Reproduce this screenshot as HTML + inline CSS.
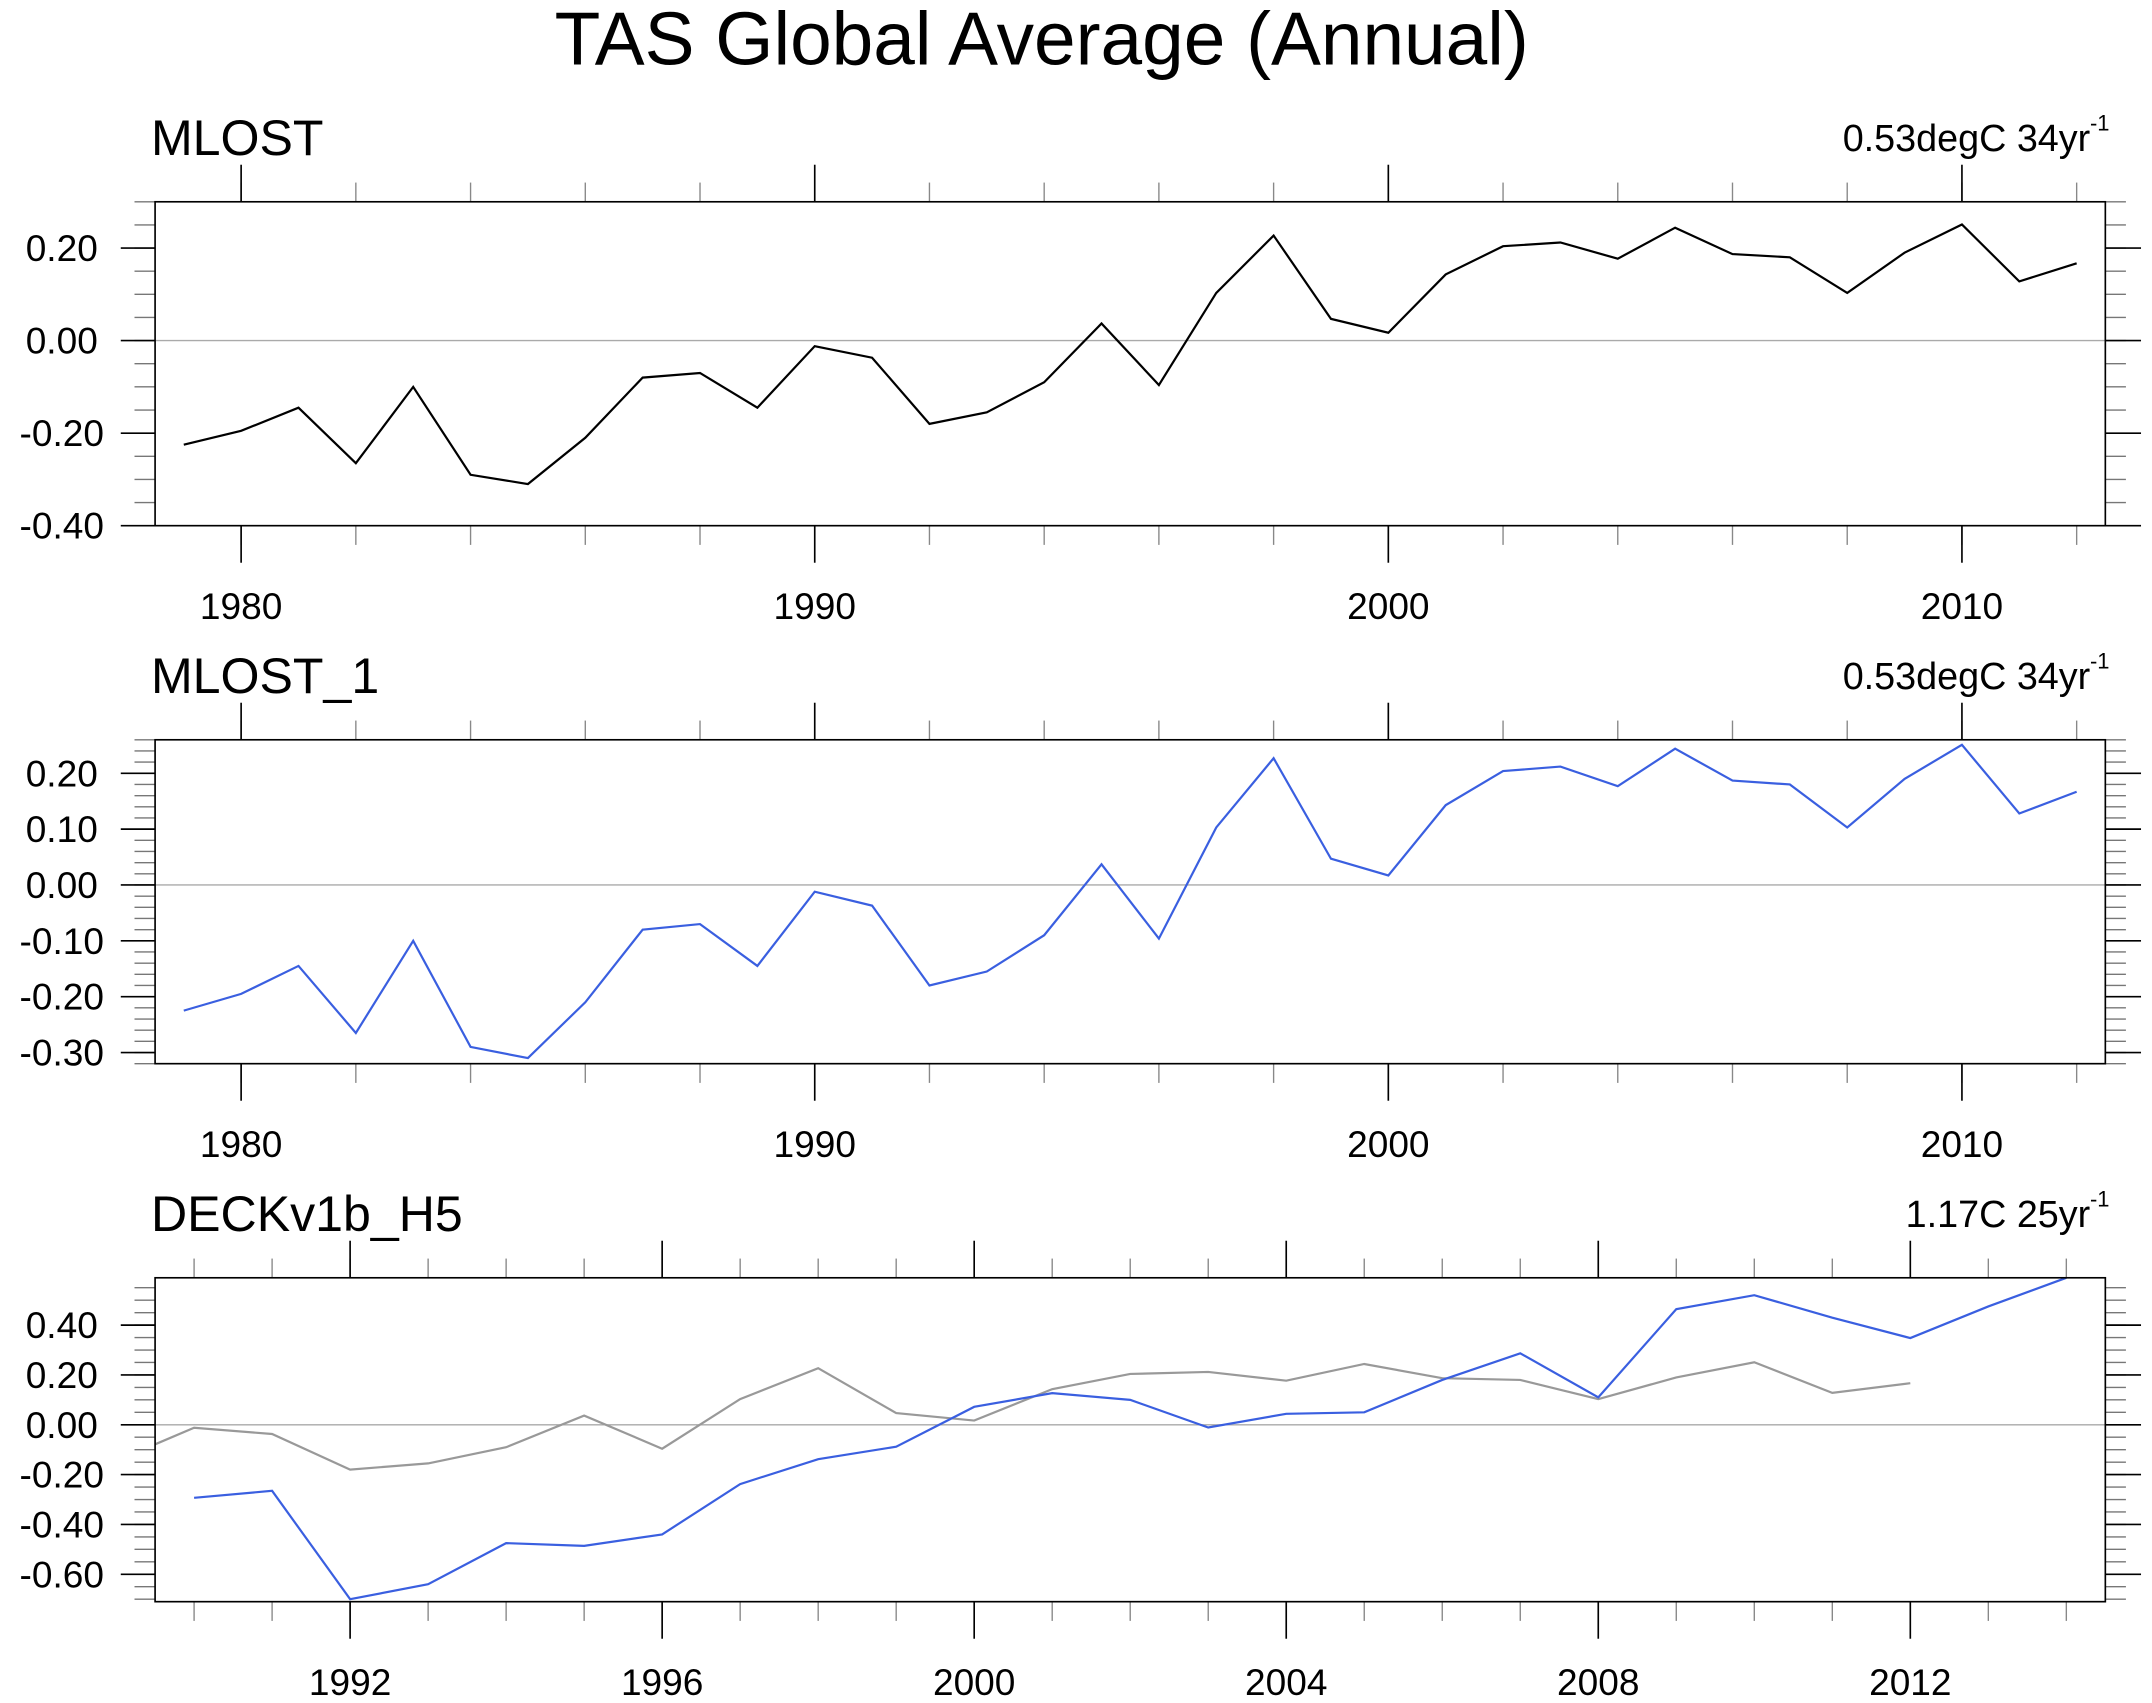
<!DOCTYPE html>
<html><head><meta charset="utf-8"><style>
html,body{margin:0;padding:0;background:#fff}
svg{display:block}
text{font-family:"Liberation Sans",sans-serif;fill:#000}
</style></head><body>
<svg id="chart" width="2152" height="1703" viewBox="0 0 1568 1240.8" xmlns="http://www.w3.org/2000/svg">
<text x="759" y="47" font-size="54.5" text-anchor="middle">TAS Global Average (Annual)</text>
</svg>
<script>
const mlostYears = [1979,1980,1981,1982,1983,1984,1985,1986,1987,1988,1989,1990,1991,1992,1993,1994,1995,1996,1997,1998,1999,2000,2001,2002,2003,2004,2005,2006,2007,2008,2009,2010,2011,2012];
const mlostValues = [-0.225,-0.195,-0.145,-0.265,-0.10,-0.29,-0.31,-0.21,-0.08,-0.07,-0.145,-0.012,-0.037,-0.18,-0.155,-0.09,0.037,-0.096,0.103,0.227,0.047,0.017,0.143,0.204,0.212,0.177,0.244,0.187,0.18,0.103,0.19,0.251,0.128,0.167];
const deckYears = [1990,1991,1992,1993,1994,1995,1996,1997,1998,1999,2000,2001,2002,2003,2004,2005,2006,2007,2008,2009,2010,2011,2012,2013,2014];
const deckValues = [-0.293,-0.265,-0.70,-0.64,-0.475,-0.486,-0.44,-0.238,-0.138,-0.088,0.072,0.127,0.10,-0.011,0.044,0.05,0.18,0.287,0.11,0.464,0.52,0.43,0.348,0.475,0.59];
const p1Ticks = [0.2,0,-0.2,-0.4];
const p2Ticks = [0.2,0.1,0,-0.1,-0.2,-0.3];
const p3Ticks = [0.4,0.2,0,-0.2,-0.4,-0.6];
const p1Years = [1980,1990,2000,2010];
const p3Years = [1992,1996,2000,2004,2008,2012];

const NS='http://www.w3.org/2000/svg';
const svg=document.getElementById('chart');
function mk(tag,attrs,parent){const e=document.createElementNS(NS,tag);for(const k in attrs)e.setAttribute(k,attrs[k]);(parent||svg).appendChild(e);return e;}

function panel(o){
  const L=113,R=1534,T=o.top,B=o.top+236;
  const g=mk('g',{});
  
  
  const sx=v=>L+(v-o.x0)/(o.x1-o.x0)*(R-L);
  const sy=v=>B-(v-o.y0)/(o.y1-o.y0)*(B-T);
  const z=mk('line',{x1:L,x2:R,y1:sy(0),y2:sy(0),stroke:'#aaa','stroke-width':1},g);
  
  
  const eps=1e-6;
  for(let v=Math.ceil(o.y0/o.ym-eps)*o.ym; v<=o.y1+eps; v+=o.ym){
    const y=sy(v);
    mk('line',{x1:L-15,x2:L,y1:y,y2:y,stroke:'#777','stroke-width':1},g);
    mk('line',{x1:R,x2:R+15,y1:y,y2:y,stroke:'#777','stroke-width':1},g);
  }
  o.yt.forEach(v=>{
    const y=sy(v);
    mk('line',{x1:L-25,x2:L,y1:y,y2:y,stroke:'#000','stroke-width':1.2},g);
    mk('line',{x1:R,x2:R+26,y1:y,y2:y,stroke:'#000','stroke-width':1.2},g);
    const t=mk('text',{x:L-68,y:y+9.5,'font-size':27,'text-anchor':'middle'},g);
    t.textContent=v.toFixed(2);
    
    
  });
  for(let yr=Math.ceil(o.x0/o.xm)*o.xm; yr<=o.x1; yr+=o.xm){
    const x=sx(yr);
    mk('line',{x1:x,x2:x,y1:T-14,y2:T,stroke:'#888','stroke-width':1},g);
    mk('line',{x1:x,x2:x,y1:B,y2:B+14,stroke:'#888','stroke-width':1},g);
  }
  o.xt.forEach(yr=>{
    const x=sx(yr);
    mk('line',{x1:x,x2:x,y1:T-27,y2:T,stroke:'#000','stroke-width':1.2},g);
    mk('line',{x1:x,x2:x,y1:B,y2:B+27,stroke:'#000','stroke-width':1.2},g);
    const t=mk('text',{x:x,y:B+68,'font-size':27,'text-anchor':'middle'},g);
    t.textContent=yr;
    
    
  });
  const cid='clip'+o.name;
  const cp=mk('clipPath',{id:cid},g);
  mk('rect',{x:L,y:T,width:R-L,height:B-T},cp);
  o.series.forEach(s=>{
    const pts=s.xs.map((yr,i)=>sx(yr).toFixed(2)+','+sy(s.ys[i]).toFixed(2)).join(' ');
    const p=mk('polyline',{points:pts,fill:'none',stroke:s.color,'stroke-width':1.6,'clip-path':'url(#'+cid+')'},g);
    
    
  });
  const fr=mk('rect',{x:L,y:T,width:R-L,height:B-T,fill:'none',stroke:'#000','stroke-width':1.2},g);
  
  
  const tl=mk('text',{x:110,y:T-34,'font-size':36.5},g);
  tl.textContent=o.title;
  
  
  const rt=mk('text',{x:1523,y:T-37,'font-size':27.5,'text-anchor':'end'},g);
  rt.textContent=o.right;
  
  
  const sup=mk('text',{x:1537,y:T-52,'font-size':16,'text-anchor':'end'},g);
  sup.textContent='-1';
  
  
}

panel({name:'mlost',top:147,title:'MLOST',right:'0.53degC 34yr',x0:1978.5,x1:2012.5,y0:-0.4,y1:0.3,ym:0.05,yt:p1Ticks,xm:2,xt:p1Years,
  series:[{name:'mlost-line',xs:mlostYears,ys:mlostValues,color:'#000'}]});
panel({name:'mlost1',top:539,title:'MLOST_1',right:'0.53degC 34yr',x0:1978.5,x1:2012.5,y0:-0.32,y1:0.26,ym:0.02,yt:p2Ticks,xm:2,xt:p1Years,
  series:[{name:'mlost1-line',xs:mlostYears,ys:mlostValues,color:'#3a5fe0'}]});
panel({name:'deck',top:931,title:'DECKv1b_H5',right:'1.17C 25yr',x0:1989.5,x1:2014.5,y0:-0.71,y1:0.59,ym:0.05,yt:p3Ticks,xm:1,xt:p3Years,
  series:[{name:'reference-mlost-line',xs:mlostYears,ys:mlostValues,color:'#999'},{name:'deck-line',xs:deckYears,ys:deckValues,color:'#3a5fe0'}]});
</script>
</body></html>
